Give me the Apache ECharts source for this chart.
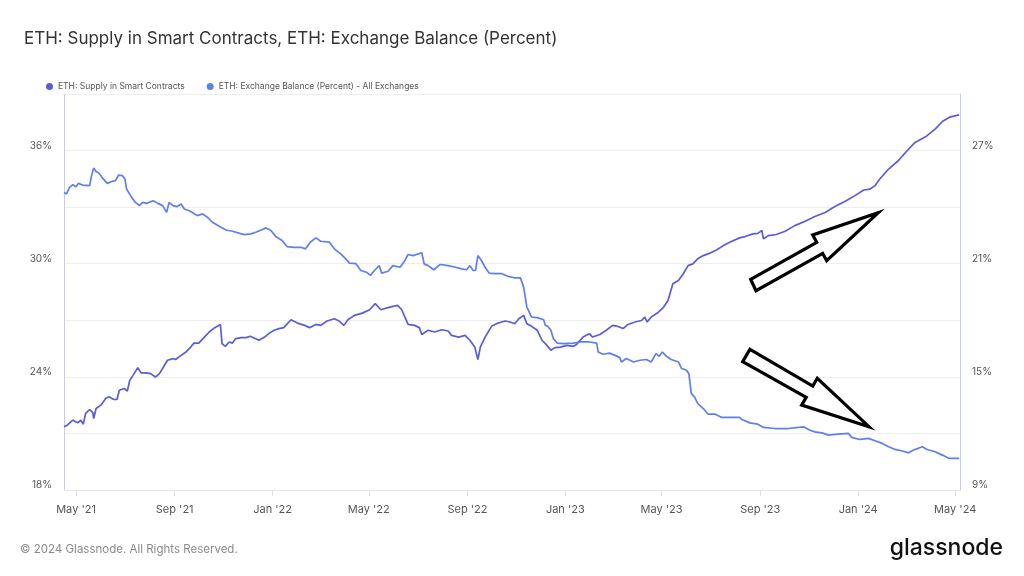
<!DOCTYPE html>
<html><head><meta charset="utf-8">
<script src="https://cdn.jsdelivr.net/npm/echarts@6/dist/echarts.min.js"></script>
<style>html,body{margin:0;padding:0;background:#fff}#c{width:1024px;height:576px}</style>
</head><body><div id="c"></div>
<script>
const scName = 'ETH: Supply in Smart Contracts';
const exName = 'ETH: Exchange Balance (Percent) - All Exchanges';
const scDates = ['2021-04-16','2021-04-20','2021-04-27','2021-05-03','2021-05-07','2021-05-10','2021-05-13','2021-05-18','2021-05-22','2021-05-23','2021-05-26','2021-06-01','2021-06-07','2021-06-11','2021-06-17','2021-06-21','2021-06-24','2021-06-30','2021-07-04','2021-07-07','2021-07-11','2021-07-17','2021-07-21','2021-07-27','2021-08-02','2021-08-08','2021-08-13','2021-08-18','2021-08-23','2021-08-30','2021-09-02','2021-09-09','2021-09-15','2021-09-21','2021-09-25','2021-10-01','2021-10-08','2021-10-14','2021-10-21','2021-10-28','2021-10-30','2021-11-03','2021-11-08','2021-11-12','2021-11-16','2021-11-23','2021-11-29','2021-12-04','2021-12-09','2021-12-15','2021-12-22','2021-12-28','2022-01-03','2022-01-09','2022-01-15','2022-01-24','2022-02-01','2022-02-10','2022-02-16','2022-02-24','2022-03-02','2022-03-10','2022-03-19','2022-03-25','2022-03-31','2022-04-05','2022-04-13','2022-04-23','2022-05-02','2022-05-09','2022-05-16','2022-05-25','2022-05-31','2022-06-06','2022-06-11','2022-06-15','2022-06-19','2022-06-27','2022-07-03','2022-07-06','2022-07-14','2022-07-22','2022-07-31','2022-08-08','2022-08-12','2022-08-21','2022-08-29','2022-09-04','2022-09-10','2022-09-14','2022-09-17','2022-09-23','2022-10-01','2022-10-09','2022-10-18','2022-10-24','2022-10-30','2022-11-04','2022-11-10','2022-11-14','2022-11-20','2022-11-27','2022-12-03','2022-12-09','2022-12-14','2022-12-19','2022-12-26','2023-01-03','2023-01-11','2023-01-15','2023-01-23','2023-01-31','2023-02-02','2023-02-04','2023-02-13','2023-02-21','2023-03-01','2023-03-07','2023-03-14','2023-03-20','2023-03-29','2023-04-06','2023-04-10','2023-04-13','2023-04-18','2023-04-27','2023-05-03','2023-05-09','2023-05-15','2023-05-22','2023-05-28','2023-06-03','2023-06-09','2023-06-15','2023-06-22','2023-06-30','2023-07-09','2023-07-17','2023-07-25','2023-08-06','2023-08-13','2023-08-23','2023-08-29','2023-09-03','2023-09-05','2023-09-11','2023-09-21','2023-10-02','2023-10-14','2023-10-27','2023-11-08','2023-11-21','2023-12-03','2023-12-16','2023-12-28','2024-01-08','2024-01-16','2024-01-22','2024-01-28','2024-02-08','2024-02-20','2024-03-02','2024-03-12','2024-03-25','2024-04-06','2024-04-15','2024-04-25','2024-05-06'];
const scValues = [21.35,21.44,21.70,21.56,21.70,21.49,22.06,22.27,22.09,21.79,22.32,22.50,22.85,22.94,22.80,22.80,23.29,23.38,23.25,23.82,24.08,24.49,24.21,24.21,24.17,23.99,24.17,24.52,24.88,24.97,24.92,25.14,25.32,25.58,25.79,25.79,26.11,26.38,26.61,26.77,25.76,25.62,25.85,25.79,26.03,26.08,26.08,26.15,26.06,25.94,26.11,26.32,26.47,26.56,26.61,27.03,26.85,26.73,26.61,26.78,26.73,26.96,27.08,26.96,26.73,27.03,27.26,27.38,27.56,27.88,27.56,27.67,27.74,27.79,27.56,27.17,26.78,26.73,26.61,26.25,26.47,26.38,26.50,26.43,26.20,26.11,26.20,25.94,25.58,24.92,25.58,26.11,26.68,26.85,26.96,26.91,26.82,27.08,27.26,26.82,26.68,26.47,25.94,25.67,25.41,25.55,25.58,25.67,25.62,25.72,26.11,26.29,26.38,26.11,26.25,26.47,26.73,26.68,26.56,26.78,26.91,26.99,27.17,26.91,27.17,27.43,27.67,28.05,28.94,29.11,29.47,29.90,29.99,30.26,30.43,30.56,30.74,30.96,31.14,31.37,31.44,31.58,31.61,31.76,31.32,31.49,31.55,31.72,32.02,32.25,32.50,32.72,33.03,33.31,33.61,33.91,33.96,34.14,34.49,35.02,35.46,35.99,36.43,36.73,37.14,37.54,37.79,37.89];
const exDates = ['2021-04-16','2021-04-19','2021-04-23','2021-04-27','2021-05-01','2021-05-04','2021-05-09','2021-05-18','2021-05-20','2021-05-23','2021-05-26','2021-05-30','2021-06-03','2021-06-09','2021-06-15','2021-06-19','2021-06-23','2021-06-28','2021-07-01','2021-07-03','2021-07-08','2021-07-14','2021-07-19','2021-07-23','2021-07-28','2021-08-05','2021-08-11','2021-08-17','2021-08-22','2021-08-25','2021-08-30','2021-09-04','2021-09-09','2021-09-13','2021-09-19','2021-09-23','2021-09-29','2021-10-06','2021-10-12','2021-10-18','2021-10-27','2021-11-04','2021-11-12','2021-11-21','2021-11-27','2021-12-05','2021-12-11','2021-12-18','2021-12-24','2021-12-30','2022-01-05','2022-01-13','2022-01-19','2022-01-28','2022-02-05','2022-02-11','2022-02-17','2022-02-24','2022-03-02','2022-03-13','2022-03-19','2022-03-27','2022-04-01','2022-04-07','2022-04-15','2022-04-21','2022-04-28','2022-05-03','2022-05-08','2022-05-14','2022-05-17','2022-05-25','2022-05-31','2022-06-09','2022-06-15','2022-06-19','2022-06-25','2022-07-06','2022-07-09','2022-07-14','2022-07-21','2022-07-29','2022-08-08','2022-08-17','2022-08-25','2022-08-31','2022-09-04','2022-09-08','2022-09-11','2022-09-14','2022-09-19','2022-09-23','2022-09-28','2022-10-05','2022-10-14','2022-10-22','2022-10-30','2022-11-06','2022-11-10','2022-11-14','2022-11-20','2022-11-27','2022-12-05','2022-12-07','2022-12-10','2022-12-14','2022-12-17','2022-12-22','2022-12-30','2023-01-11','2023-01-19','2023-01-31','2023-02-09','2023-02-11','2023-02-17','2023-02-25','2023-03-04','2023-03-10','2023-03-12','2023-03-18','2023-03-27','2023-04-04','2023-04-12','2023-04-18','2023-04-24','2023-04-28','2023-05-02','2023-05-07','2023-05-13','2023-05-22','2023-05-26','2023-06-01','2023-06-04','2023-06-07','2023-06-11','2023-06-15','2023-06-22','2023-06-28','2023-07-07','2023-07-15','2023-07-25','2023-08-06','2023-08-09','2023-08-19','2023-08-29','2023-09-05','2023-09-19','2023-10-06','2023-10-25','2023-11-02','2023-11-08','2023-11-17','2023-11-25','2023-12-07','2023-12-20','2023-12-24','2024-01-03','2024-01-14','2024-01-22','2024-01-31','2024-02-08','2024-02-16','2024-02-24','2024-03-04','2024-03-10','2024-03-16','2024-03-21','2024-03-27','2024-04-06','2024-04-15','2024-04-23','2024-05-01','2024-05-06'];
const exValues = [24.78,24.70,25.05,25.19,25.08,25.26,25.17,25.14,25.61,26.07,25.89,25.79,25.54,25.26,25.37,25.40,25.70,25.67,25.49,24.96,24.61,24.25,24.08,24.25,24.20,24.34,24.20,24.08,23.72,24.25,24.08,24.03,24.17,23.90,23.81,23.72,23.55,23.64,23.46,23.20,22.97,22.79,22.72,22.61,22.54,22.58,22.67,22.79,22.90,22.76,22.44,22.23,21.91,21.87,21.87,21.79,22.14,22.37,22.19,22.14,21.79,21.52,21.31,21.03,21.00,20.64,20.55,20.38,20.64,20.90,20.50,20.60,20.90,20.81,21.17,21.49,21.43,21.58,20.99,20.90,20.68,20.96,20.90,20.81,20.73,20.68,20.90,20.64,20.64,21.43,21.13,20.81,20.50,20.47,20.47,20.32,20.25,20.25,19.76,18.70,18.17,18.14,18.03,17.73,17.68,17.47,17.03,16.79,16.76,16.79,16.85,16.85,16.79,16.32,16.20,16.26,16.14,16.02,15.79,15.97,15.79,15.88,15.92,15.79,16.23,16.09,16.32,16.09,15.92,15.79,15.44,15.35,15.17,14.12,13.94,13.59,13.32,13.02,13.02,12.85,12.85,12.85,12.74,12.56,12.49,12.32,12.26,12.26,12.35,12.17,12.08,12.03,11.91,11.96,12.00,11.79,11.68,11.74,11.61,11.47,11.29,11.15,11.08,10.97,11.12,11.21,11.29,11.15,11.03,10.85,10.68,10.68,10.68];
const xTickDates = ['2021-05-01','2021-09-01','2022-01-01','2022-05-01','2022-09-01','2023-01-01','2023-05-01','2023-09-01','2024-01-01','2024-05-01'];
const monthNames = ['Jan','Feb','Mar','Apr','May','Jun','Jul','Aug','Sep','Oct','Nov','Dec'];

const ts = s => new Date(s + 'T00:00:00').getTime();
const xTicks = xTickDates.map(ts);
const font = 'Inter, "Noto Sans", sans-serif';
const scColor = '#5b5dd6';
const exColor = '#5f7ef0';

const chart = echarts.init(document.getElementById('c'), null, {renderer: 'canvas'});
chart.setOption({
  animation: false,
  backgroundColor: '#ffffff',
  textStyle: {fontFamily: font},
  title: {
    text: 'ETH: Supply in Smart Contracts, ETH: Exchange Balance (Percent)',
    left: 19, top: 25,
    textStyle: {fontSize: 17, fontWeight: 'normal', color: '#333333', fontFamily: font}
  },
  legend: {
    left: 41, top: 77,
    icon: 'circle', itemWidth: 7, itemHeight: 7, itemGap: 22,
    textStyle: {fontSize: 8.5, color: '#555555', fontFamily: font},
    data: [scName, exName]
  },
  grid: {left: 64, right: 64, top: 94, bottom: 86, containLabel: false, outerBoundsMode: 'none'},
  xAxis: {
    type: 'value',
    min: ts('2021-04-16'), max: ts('2024-05-07'),
    axisLine: {show: true, lineStyle: {color: '#e6e6e6'}},
    axisTick: {show: true, length: 6, lineStyle: {color: '#e0e0e0'}, customValues: xTicks},
    axisLabel: {
      customValues: xTicks, margin: 14, fontSize: 11, color: '#555555', fontFamily: font,
      showMinLabel: true, showMaxLabel: true,
      formatter: v => { const d = new Date(v); return monthNames[d.getMonth()] + " '" + String(d.getFullYear()).slice(2); }
    },
    splitLine: {show: false}
  },
  yAxis: [
    {
      type: 'value', min: 18, max: 39, interval: 3, position: 'left',
      axisLine: {show: true, lineStyle: {color: '#c8caf4'}},
      axisTick: {show: false},
      axisLabel: {margin: 12, fontSize: 10, color: '#555555', fontFamily: font, verticalAlign: 'bottom',
        formatter: v => ((v - 18) % 6 === 0 ? v + '%' : '')},
      splitLine: {show: true, lineStyle: {color: '#eeeeee'}}
    },
    {
      type: 'value', min: 9, max: 30, interval: 3, position: 'right',
      axisLine: {show: true, lineStyle: {color: '#c4cdf6'}},
      axisTick: {show: false},
      axisLabel: {margin: 12, fontSize: 10, color: '#555555', fontFamily: font, verticalAlign: 'bottom',
        formatter: v => ((v - 9) % 6 === 0 ? v + '%' : '')},
      splitLine: {show: false}
    }
  ],
  series: [
    {
      name: scName, type: 'line', yAxisIndex: 0, showSymbol: false,
      color: scColor, lineStyle: {width: 1.7, color: scColor},
      data: scDates.map((d, i) => [ts(d), scValues[i]])
    },
    {
      name: exName, type: 'line', yAxisIndex: 1, showSymbol: false,
      color: exColor, lineStyle: {width: 1.7, color: exColor},
      data: exDates.map((d, i) => [ts(d), exValues[i]])
    }
  ],
  graphic: [
    {type: 'text', left: 20, top: 544, style: {text: '\u00a9 2024 Glassnode. All Rights Reserved.', fontSize: 11.5, fill: '#8a8a8a', fontFamily: font}},
    {type: 'text', right: 21, top: 537, style: {text: 'glassnode', fontSize: 23, fill: '#111111', fontFamily: font, fontWeight: 500}},
    {type: 'polygon', z: 100, shape: {points: [[750.7,279.3],[816.7,242.3],[812.7,235],[878.3,212.7],[826.7,260.7],[822.7,253.4],[756,290.7]]},
      style: {fill: '#ffffff', stroke: '#000000', lineWidth: 3.2, lineJoin: 'miter'}},
    {type: 'polygon', z: 100, shape: {points: [[750,349.3],[812.8,386.1],[817.3,378.3],[869,426.7],[801.7,405],[806.2,397.3],[742.7,361.7]]},
      style: {fill: '#ffffff', stroke: '#000000', lineWidth: 3.2, lineJoin: 'miter'}}
  ]
});
</script>
</body></html>
